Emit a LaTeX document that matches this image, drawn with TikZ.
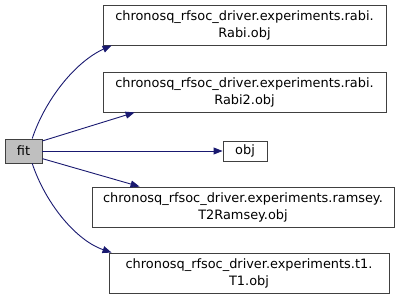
\documentclass[tikz,border=0pt]{standalone}
\usepackage{fontspec}
\setmainfont{DejaVu Sans}
\usetikzlibrary{arrows.meta}
\definecolor{edgeblue}{HTML}{191970}
\definecolor{rootgray}{HTML}{BFBFBF}

\begin{document}
\begin{tikzpicture}[x=1pt, y=-1pt,
    box/.style={draw=black!75, line width=0.9pt, fill=white, inner sep=0pt, align=center,
        font=\fontsize{12.9}{17}\selectfont},
    callee/.style={box, minimum width=283pt, minimum height=40pt},
    call/.style={draw=edgeblue, line width=0.9pt, -{Triangle[length=9pt,width=7pt]}}]

    \useasboundingbox (0,0) rectangle (403,300);

    % Caller
    \node[box, fill=rootgray, minimum width=37pt, minimum height=24pt] (fit) at (23.5,151) {fit};

    % Callees
    \node[callee] (rabi) at (244.5,25) {chronosq\_rfsoc\_driver.experiments.rabi.\\Rabi.obj};
    \node[callee] (rabitwo) at (244.5,92) {chronosq\_rfsoc\_driver.experiments.rabi.\\Rabi2.obj};
    \node[box, minimum width=44pt, minimum height=20pt] (obj) at (245,151) {obj};
    \node[callee, minimum width=302pt] (ramsey) at (243,207) {chronosq\_rfsoc\_driver.experiments.ramsey.\\T2Ramsey.obj};
    \node[callee, minimum width=280pt] (tone) at (249,273) {chronosq\_rfsoc\_driver.experiments.t1.\\T1.obj};

    % Calls
    \draw[call] (fit.55) .. controls (45,100) and (75,62) .. ([xshift=9pt]rabi.south west);
    \draw[call] (fit.28) -- ([xshift=32pt]rabitwo.south west);
    \draw[call] (fit) -- (obj);
    \draw[call] (fit.-22) -- ([xshift=48pt]ramsey.north west);
    \draw[call] (fit.-55) .. controls (45,202) and (75,240) .. ([xshift=3pt]tone.north west);

\end{tikzpicture}
\end{document}
